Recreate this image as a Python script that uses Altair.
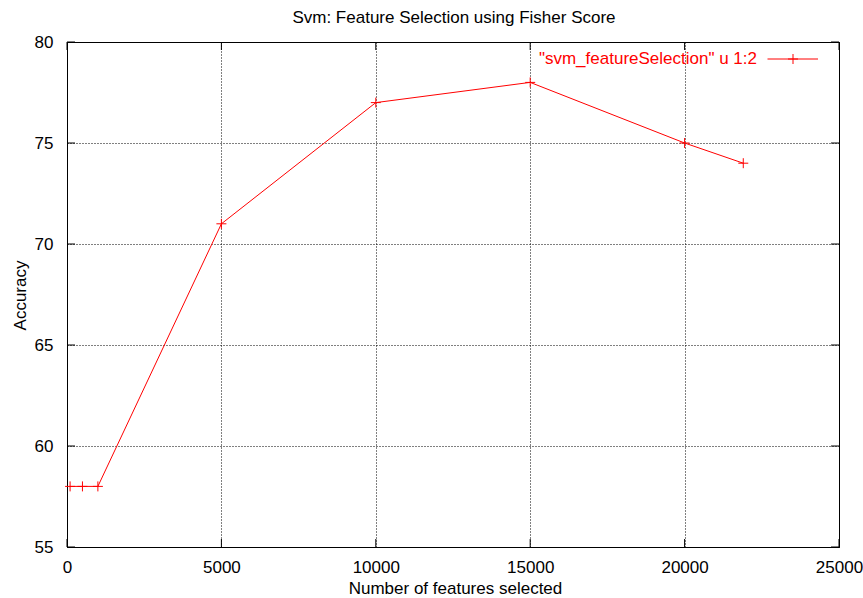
import altair as alt
import pandas as pd

features = [100, 500, 1000, 5000, 10000, 15000, 20000, 21900]
accuracy = [58, 58, 58, 71, 77, 78, 75, 74]
x_ticks = [0, 5000, 10000, 15000, 20000, 25000]
y_ticks = [55, 60, 65, 70, 75, 80]
series_label = '"svm_featureSelection" u 1:2'
chart_title = "Svm: Feature Selection using Fisher Score"

df = pd.DataFrame({"features": features, "accuracy": accuracy})
xt = pd.DataFrame({"features": x_ticks})
yt = pd.DataFrame({"accuracy": y_ticks})

FONT = "Liberation Sans"
FS = 17
RED = "#ff0000"
PLUS = "M-1,0L1,0M0,-1L0,1"
W, H = 772, 505
TICK = 8

x = alt.X("features:Q", scale=alt.Scale(domain=[0, 25000], nice=False),
          axis=alt.Axis(values=x_ticks, title="Number of features selected",
                        format="d", labelPadding=25, labelBaseline="alphabetic",
                        labelFlush=False,
                        titleX=388, titleY=46.5, titleBaseline="alphabetic",
                        titleAlign="center"))
y = alt.Y("accuracy:Q", scale=alt.Scale(domain=[55, 80], nice=False, zero=False),
          axis=alt.Axis(values=y_ticks, title="Accuracy", labelPadding=14,
                        labelFlush=False,
                        titleX=-42, titleY=253, titleAngle=270,
                        titleAlign="center", titleBaseline="alphabetic"))

# inward, mirrored ticks
tb = alt.Chart(xt).mark_rule(color="black", strokeWidth=1).encode(
    x=x, y=alt.value(H), y2=alt.value(H - TICK))
tt = alt.Chart(xt).mark_rule(color="black", strokeWidth=1).encode(
    x=x, y=alt.value(0), y2=alt.value(TICK))
tl = alt.Chart(yt).mark_rule(color="black", strokeWidth=1).encode(
    y=y, x=alt.value(0), x2=alt.value(TICK))
tr = alt.Chart(yt).mark_rule(color="black", strokeWidth=1).encode(
    y=y, x=alt.value(W), x2=alt.value(W - TICK))

line = alt.Chart(df).mark_line(color=RED, strokeWidth=1).encode(x=x, y=y)
pts = alt.Chart(df).mark_point(shape=PLUS, size=100, color=RED, filled=False,
                               strokeWidth=1, opacity=1).encode(x=x, y=y)

leg_df = pd.DataFrame({"label": [series_label]})
leg_text = alt.Chart(leg_df).mark_text(align="right", baseline="alphabetic", color=RED,
                                       font=FONT, fontSize=FS).encode(
    text="label:N", x=alt.value(690), y=alt.value(22))
leg_line = alt.Chart(leg_df).mark_rule(color=RED, strokeWidth=1).encode(
    x=alt.value(700.5), x2=alt.value(751), y=alt.value(17))
leg_pt = alt.Chart(leg_df).mark_point(shape=PLUS, size=100, color=RED, filled=False,
                                      strokeWidth=1, opacity=1).encode(
    x=alt.value(726), y=alt.value(17))

ttl_df = pd.DataFrame({"t": [chart_title]})
ttl = alt.Chart(ttl_df).mark_text(align="center", baseline="alphabetic", color="black",
                                  font=FONT, fontSize=FS).encode(
    text="t:N", x=alt.value(387), y=alt.value(-18.7))

chart = alt.layer(tb, tt, tl, tr, line, pts, leg_text, leg_line, leg_pt, ttl).properties(
    width=W, height=H,
    background="white",
    autosize=alt.AutoSizeParams(type="none"),
    padding={"left": 67, "top": 42, "right": 24, "bottom": 51},
).configure_view(stroke="black", strokeWidth=1).configure_axis(
    labelFont=FONT, titleFont=FONT, labelFontSize=FS, titleFontSize=FS,
    titleFontWeight="normal", labelColor="black", titleColor="black",
    grid=True, gridColor="black", gridDash=[1, 2], gridOpacity=1, gridWidth=1,
    ticks=False, domain=False, labelFlush=False, labelOverlap=False,
)

chart.save("out.html", embed_options={"renderer": "svg", "actions": False})
